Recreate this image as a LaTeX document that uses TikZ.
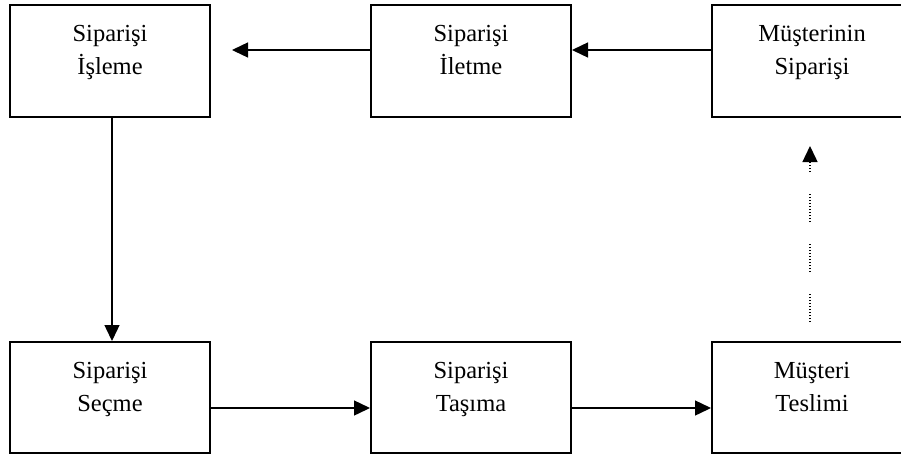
\documentclass[tikz,border=0pt]{standalone}
\usepackage{fontspec}
\setmainfont{Liberation Serif}
\usetikzlibrary{arrows.meta}
\begin{document}
\begin{tikzpicture}[x=1pt,y=-1pt,
  box/.style={draw=black,line width=2pt,rectangle,minimum width=200pt,minimum height=112pt,inner sep=0pt},
  lbl/.style={anchor=north,inner sep=0pt,align=center,font=\fontsize{24.5}{33}\selectfont},
  conn/.style={line width=1.4pt,-{Triangle[length=16pt,width=15pt]}},
  dotconn/.style={line width=1.4pt,-{Triangle[length=16pt,width=15pt]},
    dash pattern=on 1pt off 2pt on 1pt off 2pt on 1pt off 2pt on 1pt off 2pt on 1pt off 2pt on 1pt off 2pt on 1pt off 2pt on 1pt off 2pt on 1pt off 2pt on 1pt off 22pt}
]
\useasboundingbox (0,0) rectangle (901,458);
\clip (0,0) rectangle (901,458);
\fill[white] (0,0) rectangle (901,458);
\node[box] (b1) at (110,61) {};
\node[box] (b2) at (471,61) {};
\node[box] (b3) at (812,61) {};
\node[box,minimum height=111pt] (b4) at (110,397.5) {};
\node[box,minimum height=111pt] (b5) at (471,397.5) {};
\node[box,minimum height=111pt] (b6) at (812,397.5) {};
\node[lbl] (t1) at ([yshift=-21pt]b1.north) {Siparişi\\İşleme};
\node[lbl] (t2) at ([yshift=-21pt]b2.north) {Siparişi\\İletme};
\node[lbl] (t3) at ([yshift=-21pt]b3.north) {Müşterinin\\Siparişi};
\node[lbl] (t4) at ([yshift=-21pt]b4.north) {Siparişi\\Seçme};
\node[lbl] (t5) at ([yshift=-21pt]b5.north) {Siparişi\\Taşıma};
\node[lbl] (t6) at ([yshift=-21pt]b6.north) {Müşteri\\Teslimi};
\coordinate (a1) at (232,50);
\draw[conn] ([yshift=11pt]b2.west) -- (a1);
\draw[conn] ([yshift=11pt]b3.west) -- ([yshift=11pt]b2.east);
\draw[conn] ([xshift=2pt]b1.south) -- ([xshift=2pt]b4.north);
\draw[conn] ([yshift=-10.5pt]b4.east) -- ([yshift=-10.5pt]b5.west);
\draw[conn] ([yshift=-10.5pt]b5.east) -- ([yshift=-10.5pt]b6.west);
\coordinate (d1) at ([xshift=-2pt,yshift=19pt]b6.north);
\coordinate (d2) at ([xshift=-2pt,yshift=-28pt]b3.south);
\draw[dotconn] (d1) -- (d2);
\end{tikzpicture}
\end{document}
